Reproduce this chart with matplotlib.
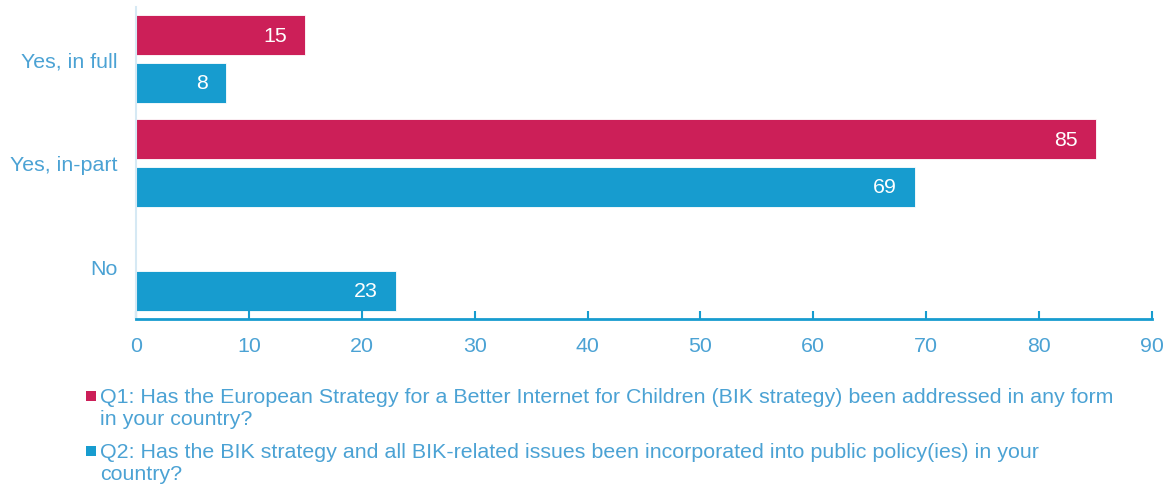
import matplotlib
matplotlib.use("Agg")
import matplotlib.pyplot as plt
from matplotlib.patches import Rectangle
import numpy as np

categories = ["Yes, in full", "Yes, in-part", "No"]
q1_values = [15, 85, None]
q2_values = [8, 69, 23]
x_ticks = [0, 10, 20, 30, 40, 50, 60, 70, 80, 90]
legend_q1 = ["Q1: Has the European Strategy for a Better Internet for Children (BIK strategy) been addressed in any form",
             "in your country?"]
legend_q2 = ["Q2: Has the BIK strategy and all BIK-related issues been incorporated into public policy(ies) in your",
             "country?"]

C_Q1 = "#CC1F58"
C_Q2 = "#179CCF"
C_TXT = "#4BA2D4"
FONT = "Liberation Sans"
FS = 15.4

plt.rcParams['font.family'] = [FONT, 'DejaVu Sans']

W, H = 1168, 489
fig = plt.figure(figsize=(W / 100, H / 100), dpi=100)
ax = fig.add_axes([136 / W, (H - 320) / H, (1152 - 136) / W, (320 - 8) / H])

y = np.arange(len(categories))
bh = 0.385
off = 0.23

for i, v in enumerate(q1_values):
    if v is not None:
        ax.barh(y[i] - off, v, height=bh, color=C_Q1, edgecolor="white", linewidth=0.6)
        ax.annotate(str(v), (v, y[i] - off), xytext=(-13, 0), textcoords="offset points",
                    ha="right", va="center", color="white", fontsize=FS)
for i, v in enumerate(q2_values):
    if v is not None:
        ax.barh(y[i] + off, v, height=bh, color=C_Q2, edgecolor="white", linewidth=0.6)
        ax.annotate(str(v), (v, y[i] + off), xytext=(-13, 0), textcoords="offset points",
                    ha="right", va="center", color="white", fontsize=FS)

ax.set_ylim(2.5, -0.5)
ax.set_xlim(0, 90)
ax.set_yticks(y)
ax.set_yticklabels(categories)
ax.set_xticks(x_ticks)
ax.set_xticklabels([str(t) for t in x_ticks])

for s in ["top", "right"]:
    ax.spines[s].set_visible(False)
ax.spines["left"].set_color("#D6E9F4")
ax.spines["left"].set_linewidth(1.5)
ax.spines["bottom"].set_color(C_Q2)
ax.spines["bottom"].set_linewidth(2)

ax.tick_params(axis="x", direction="in", length=6, width=1.5, color=C_Q2,
               labelcolor=C_TXT, labelsize=FS, pad=12)
ax.tick_params(axis="y", length=0, labelcolor=C_TXT, labelsize=FS, pad=13)

# legend
def add_entry(lines, color, marker_center_y):
    fig.patches.append(Rectangle((86 / W, (H - marker_center_y - 5) / H), 10 / W, 10 / H,
                                 transform=fig.transFigure, facecolor=color, edgecolor="none"))
    base = marker_center_y + 6
    for k, line in enumerate(lines):
        fig.text(100 / W, (H - (base + k * 22.5)) / H, line, color=C_TXT, fontsize=FS,
                 ha="left", va="baseline")

add_entry(legend_q1, C_Q1, 397)
add_entry(legend_q2, C_Q2, 452)

fig.savefig("out.png", dpi=100)
